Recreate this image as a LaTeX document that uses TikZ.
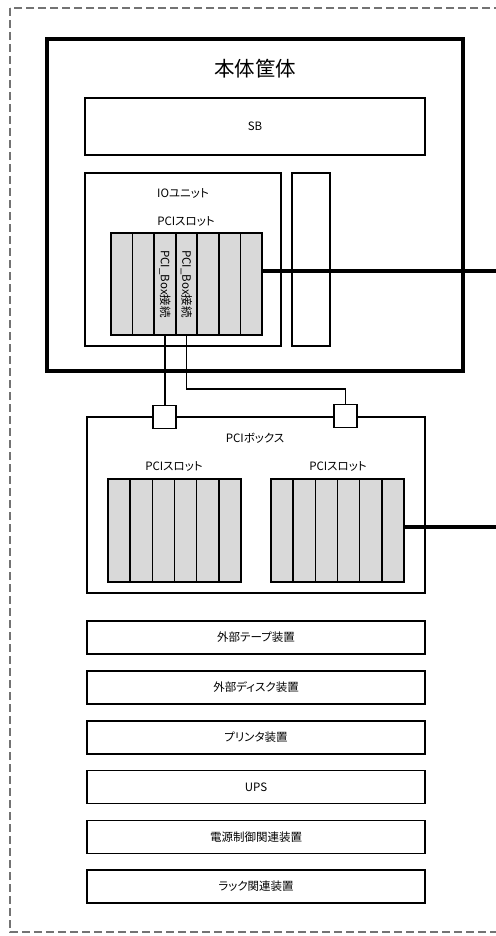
\documentclass[tikz,border=0pt]{standalone}
\usepackage{fontspec}
\setmainfont{Noto Sans CJK JP}[RawFeature=+palt]
\usetikzlibrary{positioning}

\begin{document}
\begin{tikzpicture}[
    x=1pt, y=-1pt,
    frame/.style={draw=black!55, line width=2.2pt, dash pattern=on 8pt off 4pt},
    box/.style={rectangle, draw=black, line width=1.6pt, inner sep=0pt},
    slot/.style={rectangle, draw=black, line width=1.6pt, fill=black!15, inner sep=0pt},
    port/.style={rectangle, draw=black, line width=1.8pt, fill=white, minimum size=23pt, inner sep=0pt},
    lab/.style={font=\fontsize{11.5}{13}\selectfont},
    dev/.style={box, minimum width=338pt, minimum height=33pt, font=\fontsize{11.5}{13}\selectfont},
    link/.style={draw=black, line width=1.5pt},
    cable/.style={draw=black, line width=4pt},
]
    \useasboundingbox (0,0) rectangle (495,936);
    \draw[frame] (10,8) rectangle (520,932);

    % main chassis
    \node[box, line width=3.5pt, minimum width=416pt, minimum height=332pt] (main) at (255,205) {};
    \node[font=\fontsize{20.5}{24}\selectfont] (mainlab) at (255,69) {本体筐体};
    \node[box, minimum width=340pt, minimum height=57pt, lab] (sb) at (255,126.5) {SB};
    \node[box, minimum width=196pt, minimum height=173pt] (io) at (183,259.5) {};
    \node[lab] (iolab) at (183,193) {IOユニット};
    \node[lab] (ioslotlab) at (186,221) {PCIスロット};
    \node[box, minimum width=38pt, minimum height=173pt] (side) at (311,259.5) {};
    \foreach \i in {1,...,7}
        \node[slot, minimum width=21.57pt, minimum height=102pt] (io\i) at ({111+21.57*(\i-0.5)},284) {};
    \node[lab, rotate=-90] (io3txt) at (io3) {PCI\_Box接続};
    \node[lab, rotate=-90] (io4txt) at (io4) {PCI\_Box接続};

    % PCI box
    \node[box, minimum width=338pt, minimum height=176pt] (pcibox) at (256,505) {};
    \node[lab] (pciboxlab) at (255,438) {PCIボックス};
    \node[lab] (pslotlab) at (174,466) {PCIスロット};
    \node[lab] (qslotlab) at (338,466) {PCIスロット};
    \foreach \i in {1,...,6} {
        \node[slot, minimum width=22.17pt, minimum height=103pt] (pa\i) at ({108+22.17*(\i-0.5)},530.5) {};
        \node[slot, minimum width=22.17pt, minimum height=103pt] (pb\i) at ({271+22.17*(\i-0.5)},530.5) {};
    }
    \node[port] (sq1) at (164.5,417) {};
    \node[port] (sq2) at (345.5,416) {};

    % connections
    \coordinate (bend) at (345.5,389);
    \draw[link] (io3.south) -- (io3.south |- sq1.north);
    \draw[link] (io4.south) |- (bend) -- (sq2.north);
    \coordinate (ioout) at (500,271);
    \coordinate (boxout) at (500,527);
    \draw[cable] (io7.east |- ioout) -- (ioout);
    \draw[cable] (pb6.east |- boxout) -- (boxout);

    % external devices
    \node[dev, below=26.5pt of pcibox] (tape) {外部テープ装置};
    \node[dev, below=15.2pt of tape] (disk) {外部ディスク装置};
    \node[dev, below=15.2pt of disk] (printer) {プリンタ装置};
    \node[dev, below=15.2pt of printer] (ups) {UPS};
    \node[dev, below=15.2pt of ups] (power) {電源制御関連装置};
    \node[dev, below=15.2pt of power] (rack) {ラック関連装置};
\end{tikzpicture}
\end{document}
